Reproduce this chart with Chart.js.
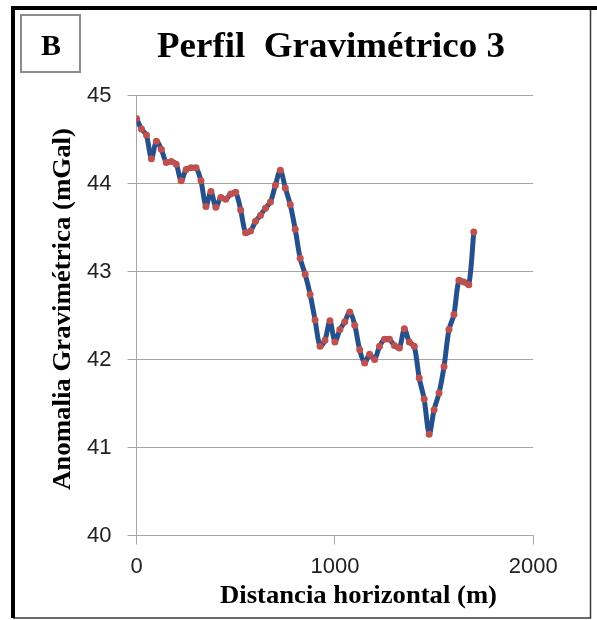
<!DOCTYPE html>
<html>
<head>
<meta charset="utf-8">
<script src="https://cdn.jsdelivr.net/npm/chart.js@4.4.1/dist/chart.umd.min.js"></script>
<style>
  html, body { margin: 0; padding: 0; background: #fff; }
  #wrap { width: 597px; height: 620px; }
</style>
</head>
<body>
<div id="wrap"><canvas id="gravChart" width="597" height="620"></canvas></div>
<script>
// Distancia horizontal (m)
const distances = [
  0, 25, 50, 75, 100, 125, 150, 175, 200, 225,
  250, 275, 300, 325, 350, 375, 400, 425, 450, 475,
  500, 525, 550, 575, 600, 625, 650, 675, 700, 725,
  750, 775, 800, 825, 850, 875, 900, 925, 950, 975,
  1000, 1025, 1050, 1075, 1100, 1125, 1150, 1175, 1200, 1225,
  1250, 1275, 1300, 1325, 1350, 1375, 1400, 1425, 1450, 1475,
  1500, 1525, 1550, 1575, 1600, 1625, 1650, 1675, 1700
];

// Anomalia gravimétrica (mGal)
const anomaly = [
  44.74, 44.62, 44.55, 44.28, 44.48, 44.39, 44.24, 44.25, 44.22, 44.03,
  44.16, 44.18, 44.18, 44.03, 43.74, 43.91, 43.73, 43.84, 43.82, 43.88,
  43.90, 43.70, 43.44, 43.46, 43.57, 43.64, 43.72, 43.79, 43.98, 44.15,
  43.95, 43.76, 43.48, 43.15, 42.97, 42.74, 42.45, 42.15, 42.22, 42.44,
  42.20, 42.34, 42.43, 42.54, 42.39, 42.11, 41.96, 42.06, 42.00, 42.15,
  42.23, 42.23, 42.16, 42.13, 42.35, 42.20, 42.15, 41.79, 41.55, 41.15,
  41.43, 41.62, 41.92, 42.34, 42.51, 42.90, 42.88, 42.85, 43.45
];

const xTicks = [0, 1000, 2000];
const yTicks = [40, 41, 42, 43, 44, 45];

const chartTitle = 'Perfil  Gravimétrico 3';
const panelLetter = 'B';
const xTitle = 'Distancia horizontal (m)';
const yTitle = 'Anomalia Gravimétrica (mGal)';

const points = distances.map((d, i) => ({ x: d, y: anomaly[i] }));

const serif = '"Liberation Serif", "Times New Roman", serif';

// draw text squeezed/stretched to a given width, centred on (cx, cy)
function fitText(ctx, text, cx, cy, width, rotate) {
  ctx.save();
  ctx.translate(cx, cy);
  if (rotate) ctx.rotate(-Math.PI / 2);
  const w = ctx.measureText(text).width;
  ctx.scale(width / w, 1);
  ctx.textAlign = 'center';
  ctx.textBaseline = 'middle';
  ctx.fillText(text, 0, 0);
  ctx.restore();
}

// frame, panel letter box, title and axis titles
const decorations = {
  id: 'decorations',
  beforeDraw(chart) {
    const ctx = chart.ctx;
    ctx.save();
    ctx.fillStyle = '#ffffff';
    ctx.fillRect(0, 0, chart.width, chart.height);
    ctx.restore();
  },
  afterDraw(chart) {
    const ctx = chart.ctx;
    ctx.save();
    // thin right / bottom edges
    ctx.strokeStyle = '#3a3a3a';
    ctx.lineWidth = 1.5;
    ctx.beginPath();
    ctx.moveTo(590.5, 8);
    ctx.lineTo(590.5, 618);
    ctx.lineTo(13, 618);
    ctx.stroke();
    // thick left / top edges
    ctx.fillStyle = '#000000';
    ctx.fillRect(11, 6, 4, 612);
    ctx.fillRect(11, 6, 586, 4);

    // panel letter box
    ctx.strokeStyle = '#8c8c8c';
    ctx.lineWidth = 2;
    ctx.strokeRect(21, 15, 59, 57);
    ctx.fillStyle = '#000';
    ctx.font = 'bold 30px ' + serif;
    ctx.textAlign = 'center';
    ctx.textBaseline = 'alphabetic';
    ctx.fillText(panelLetter, 51, 55);

    // title
    ctx.font = 'bold 36px ' + serif;
    fitText(ctx, chartTitle, 331, 48, 348, false);

    // axis titles
    ctx.font = 'bold 25px ' + serif;
    fitText(ctx, xTitle, 358.5, 597, 277, false);
    fitText(ctx, yTitle, 64, 309, 362, true);
    ctx.restore();
  }
};

const ctx = document.getElementById('gravChart').getContext('2d');
const chart = new Chart(ctx, {
  type: 'line',
  data: {
    datasets: [{
      label: 'Perfil 3',
      data: points,
      borderColor: '#24508C',
      borderWidth: 5,
      tension: 0.3,
      pointRadius: 3.5,
      pointBackgroundColor: '#C0504D',
      pointBorderWidth: 0,
      pointHoverRadius: 3.5,
      fill: false
    }]
  },
  options: {
    responsive: false,
    animation: false,
    devicePixelRatio: 1,
    layout: {
      padding: { left: 0, right: 63.7, top: 95.5, bottom: 0 }
    },
    plugins: {
      legend: { display: false },
      tooltip: { enabled: false }
    },
    scales: {
      x: {
        type: 'linear',
        min: 0,
        max: 2000,
        afterBuildTicks: (scale) => { scale.ticks = xTicks.map(v => ({ value: v })); },
        afterFit: (scale) => { scale.height = 84.5; },
        grid: {
          drawOnChartArea: false,
          drawTicks: true,
          tickLength: 9,
          color: '#a6a6a6'
        },
        border: { color: '#a6a6a6' },
        ticks: {
          padding: 9,
          color: '#222',
          font: { family: '"Liberation Sans", Arial, sans-serif', size: 22 },
          maxRotation: 0,
          callback: (v) => String(v)
        }
      },
      y: {
        type: 'linear',
        min: 40,
        max: 45,
        afterBuildTicks: (scale) => { scale.ticks = yTicks.map(v => ({ value: v })); },
        afterFit: (scale) => { scale.width = 136.5; },
        grid: {
          drawTicks: true,
          tickLength: 9,
          color: '#a6a6a6'
        },
        border: { color: '#a6a6a6' },
        ticks: {
          padding: 16,
          color: '#222',
          font: { family: '"Liberation Sans", Arial, sans-serif', size: 22 },
          callback: (v) => String(v)
        }
      }
    }
  },
  plugins: [decorations]
});
</script>
</body>
</html>
